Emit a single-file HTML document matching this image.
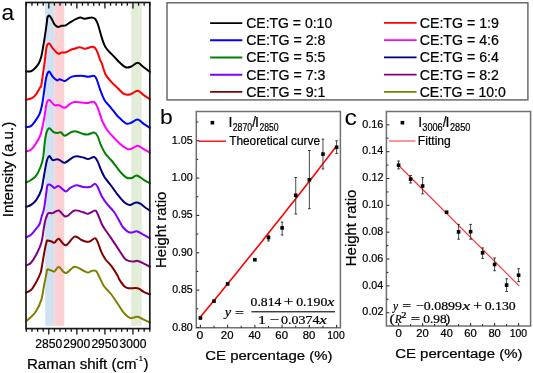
<!DOCTYPE html>
<html><head><meta charset="utf-8"><style>
html,body{margin:0;padding:0;background:#fff;}
svg{display:block;will-change:transform;}
</style></head><body>
<svg width="533" height="373" viewBox="0 0 533 373">
<rect width="533" height="373" fill="#fff"/>
<rect x="45.2" y="3.5" width="9.4" height="322.3" fill="#d0e2f2"/>
<rect x="54.6" y="3.5" width="9.7" height="322.3" fill="#fdd0d3"/>
<rect x="131.2" y="3.5" width="10.5" height="322.3" fill="#e2edd8"/>
<g fill="none" stroke-width="2.0" stroke-linejoin="round" stroke-linecap="round">
<path d="M26.00,71.40 C26.83,71.37 29.58,71.65 31.00,71.20 C32.42,70.75 33.22,69.98 34.50,68.70 C35.78,67.42 37.57,65.52 38.70,63.50 C39.83,61.48 40.42,60.22 41.30,56.60 C42.18,52.98 43.12,47.17 44.00,41.80 C44.88,36.43 46.02,28.47 46.60,24.40 C47.18,20.33 47.05,18.85 47.50,17.40 C47.95,15.95 48.57,15.40 49.30,15.70 C50.03,16.00 51.03,17.75 51.90,19.20 C52.77,20.65 53.48,23.10 54.50,24.40 C55.52,25.70 56.83,26.77 58.00,27.00 C59.17,27.23 60.20,26.08 61.50,25.80 C62.80,25.52 64.22,25.97 65.80,25.30 C67.38,24.63 69.25,22.88 71.00,21.80 C72.75,20.72 74.70,19.53 76.30,18.80 C77.90,18.07 79.15,17.40 80.60,17.40 C82.05,17.40 83.18,18.80 85.00,18.80 C86.82,18.80 89.83,17.40 91.50,17.40 C93.17,17.40 93.98,17.78 95.00,18.80 C96.02,19.82 96.73,21.27 97.60,23.50 C98.47,25.73 99.33,29.30 100.20,32.20 C101.07,35.10 101.93,38.43 102.80,40.90 C103.67,43.37 104.38,45.25 105.40,47.00 C106.42,48.75 107.45,49.80 108.90,51.40 C110.35,53.00 112.22,54.65 114.10,56.60 C115.98,58.55 118.17,61.28 120.20,63.10 C122.23,64.92 124.40,66.97 126.30,67.50 C128.20,68.03 129.70,67.08 131.60,66.30 C133.50,65.52 135.68,62.65 137.70,62.80 C139.72,62.95 141.65,65.68 143.70,67.20 C145.75,68.72 148.95,71.12 150.00,71.90" stroke="#000000"/>
<path d="M26.00,99.70 C27.00,99.43 30.28,99.03 32.00,98.10 C33.72,97.17 34.92,95.93 36.30,94.10 C37.68,92.27 39.45,88.70 40.30,87.10 C41.15,85.50 40.65,88.87 41.40,84.50 C42.15,80.13 43.93,67.15 44.80,60.90 C45.67,54.65 45.85,49.88 46.60,47.00 C47.35,44.12 48.28,43.38 49.30,43.60 C50.32,43.82 51.25,46.62 52.70,48.30 C54.15,49.98 56.53,53.00 58.00,53.70 C59.47,54.40 60.20,52.75 61.50,52.50 C62.80,52.25 64.22,52.67 65.80,52.20 C67.38,51.73 69.55,50.28 71.00,49.70 C72.45,49.12 73.05,49.10 74.50,48.70 C75.95,48.30 77.95,47.30 79.70,47.30 C81.45,47.30 82.75,48.80 85.00,48.70 C87.25,48.60 91.25,46.40 93.20,46.70 C95.15,47.00 95.53,48.27 96.70,50.50 C97.87,52.73 99.33,57.90 100.20,60.10 C101.07,62.30 101.03,61.35 101.90,63.70 C102.77,66.05 103.95,71.30 105.40,74.20 C106.85,77.10 108.57,78.78 110.60,81.10 C112.63,83.42 115.27,85.92 117.60,88.10 C119.93,90.28 122.42,93.18 124.60,94.20 C126.78,95.22 128.52,94.78 130.70,94.20 C132.88,93.62 135.53,90.55 137.70,90.70 C139.87,90.85 141.65,93.65 143.70,95.10 C145.75,96.55 148.95,98.68 150.00,99.40" stroke="#ff0000"/>
<path d="M26.00,127.00 C26.83,126.85 29.45,127.12 31.00,126.10 C32.55,125.08 33.87,122.93 35.30,120.90 C36.73,118.87 38.45,116.72 39.60,113.90 C40.75,111.08 41.47,107.65 42.20,104.00 C42.93,100.35 43.42,96.00 44.00,92.00 C44.58,88.00 45.15,83.00 45.70,80.00 C46.25,77.00 46.70,75.38 47.30,74.00 C47.90,72.62 48.40,71.27 49.30,71.70 C50.20,72.13 51.40,75.15 52.70,76.60 C54.00,78.05 55.93,79.97 57.10,80.40 C58.27,80.83 58.40,79.12 59.70,79.20 C61.00,79.28 62.87,81.33 64.90,80.90 C66.93,80.47 69.13,77.47 71.90,76.60 C74.67,75.73 78.82,75.67 81.50,75.70 C84.18,75.73 85.90,76.77 88.00,76.80 C90.10,76.83 92.65,75.47 94.10,75.90 C95.55,76.33 95.68,77.08 96.70,79.40 C97.72,81.72 98.88,86.32 100.20,89.80 C101.52,93.28 102.87,97.38 104.60,100.30 C106.33,103.22 108.58,104.83 110.60,107.30 C112.62,109.77 115.23,113.35 116.70,115.10 C118.17,116.85 117.80,116.38 119.40,117.80 C121.00,119.22 124.27,122.82 126.30,123.60 C128.33,124.38 129.70,123.17 131.60,122.50 C133.50,121.83 135.68,119.37 137.70,119.60 C139.72,119.83 141.65,122.53 143.70,123.90 C145.75,125.27 148.95,127.15 150.00,127.80" stroke="#0000ff"/>
<path d="M26.00,151.40 C26.83,151.12 29.45,150.87 31.00,149.70 C32.55,148.53 33.72,146.88 35.30,144.40 C36.88,141.92 39.05,139.00 40.50,134.80 C41.95,130.60 42.98,124.42 44.00,119.20 C45.02,113.98 45.72,106.68 46.60,103.50 C47.48,100.32 47.98,99.82 49.30,100.10 C50.62,100.38 52.92,104.35 54.50,105.20 C56.08,106.05 57.07,104.77 58.80,105.20 C60.53,105.63 63.15,107.93 64.90,107.80 C66.65,107.67 67.70,105.35 69.30,104.40 C70.90,103.45 72.47,102.40 74.50,102.10 C76.53,101.80 79.25,102.47 81.50,102.60 C83.75,102.73 85.90,103.00 88.00,102.90 C90.10,102.80 92.50,101.27 94.10,102.00 C95.70,102.73 96.43,104.68 97.60,107.30 C98.77,109.92 100.23,115.22 101.10,117.70 C101.97,120.18 101.78,120.15 102.80,122.20 C103.82,124.25 105.32,127.38 107.20,130.00 C109.08,132.62 111.78,135.43 114.10,137.90 C116.42,140.37 118.77,142.92 121.10,144.80 C123.43,146.68 126.22,148.62 128.10,149.20 C129.98,149.78 130.80,148.88 132.40,148.30 C134.00,147.72 135.82,145.55 137.70,145.70 C139.58,145.85 141.65,148.03 143.70,149.20 C145.75,150.37 148.95,152.12 150.00,152.70" stroke="#ff00ff"/>
<path d="M26.00,182.60 C26.83,182.17 29.30,181.15 31.00,180.00 C32.70,178.85 34.62,177.87 36.20,175.70 C37.78,173.53 39.35,169.95 40.50,167.00 C41.65,164.05 42.38,162.17 43.10,158.00 C43.82,153.83 44.22,146.30 44.80,142.00 C45.38,137.70 45.85,134.50 46.60,132.20 C47.35,129.90 48.13,128.20 49.30,128.20 C50.47,128.20 52.30,131.38 53.60,132.20 C54.90,133.02 55.93,133.10 57.10,133.10 C58.27,133.10 59.30,131.77 60.60,132.20 C61.90,132.63 63.17,135.70 64.90,135.70 C66.63,135.70 69.10,132.92 71.00,132.20 C72.90,131.48 74.27,131.10 76.30,131.40 C78.33,131.70 81.25,133.50 83.20,134.00 C85.15,134.50 86.18,134.63 88.00,134.40 C89.82,134.17 92.50,132.32 94.10,132.60 C95.70,132.88 96.43,133.92 97.60,136.10 C98.77,138.28 99.80,142.78 101.10,145.70 C102.40,148.62 103.67,151.13 105.40,153.60 C107.13,156.07 109.47,158.03 111.50,160.50 C113.53,162.97 116.00,166.35 117.60,168.40 C119.20,170.45 119.65,171.28 121.10,172.80 C122.55,174.32 124.55,176.62 126.30,177.50 C128.05,178.38 129.85,178.43 131.60,178.10 C133.35,177.77 134.78,175.22 136.80,175.50 C138.82,175.78 141.50,178.50 143.70,179.80 C145.90,181.10 148.95,182.72 150.00,183.30" stroke="#008000"/>
<path d="M26.00,207.00 C26.83,206.65 29.30,206.05 31.00,204.90 C32.70,203.75 34.47,202.65 36.20,200.10 C37.93,197.55 40.10,193.67 41.40,189.60 C42.70,185.53 43.13,180.35 44.00,175.70 C44.87,171.05 45.72,164.97 46.60,161.70 C47.48,158.43 48.28,156.37 49.30,156.10 C50.32,155.83 51.40,159.58 52.70,160.10 C54.00,160.62 55.93,159.20 57.10,159.20 C58.27,159.20 58.40,159.52 59.70,160.10 C61.00,160.68 62.43,163.28 64.90,162.70 C67.37,162.12 71.45,157.47 74.50,156.60 C77.55,155.73 80.95,157.08 83.20,157.50 C85.45,157.92 86.18,159.18 88.00,159.10 C89.82,159.02 92.50,156.62 94.10,157.00 C95.70,157.38 96.43,159.22 97.60,161.40 C98.77,163.58 99.93,167.47 101.10,170.10 C102.27,172.73 103.02,174.72 104.60,177.20 C106.18,179.68 108.43,182.10 110.60,185.00 C112.77,187.90 115.27,191.68 117.60,194.60 C119.93,197.52 122.57,200.75 124.60,202.50 C126.63,204.25 127.92,205.10 129.80,205.10 C131.68,205.10 134.15,202.73 135.90,202.50 C137.65,202.27 138.70,202.83 140.30,203.70 C141.90,204.57 143.88,206.55 145.50,207.70 C147.12,208.85 149.25,210.12 150.00,210.60" stroke="#000080"/>
<path d="M26.00,237.40 C26.83,236.97 29.30,236.25 31.00,234.80 C32.70,233.35 34.77,230.50 36.20,228.70 C37.63,226.90 38.67,226.12 39.60,224.00 C40.53,221.88 41.07,218.53 41.80,216.00 C42.53,213.47 43.20,213.05 44.00,208.80 C44.80,204.55 46.02,194.42 46.60,190.50 C47.18,186.58 46.92,186.27 47.50,185.30 C48.08,184.33 48.93,184.27 50.10,184.70 C51.27,185.13 53.05,187.67 54.50,187.90 C55.95,188.13 56.92,185.52 58.80,186.10 C60.68,186.68 63.90,191.10 65.80,191.40 C67.70,191.70 68.45,188.92 70.20,187.90 C71.95,186.88 74.13,185.45 76.30,185.30 C78.47,185.15 81.25,186.67 83.20,187.00 C85.15,187.33 86.62,187.42 88.00,187.30 C89.38,187.18 90.33,186.88 91.50,186.30 C92.67,185.72 93.98,183.72 95.00,183.80 C96.02,183.88 96.45,184.70 97.60,186.80 C98.75,188.90 100.30,193.50 101.90,196.40 C103.50,199.30 105.17,201.60 107.20,204.20 C109.23,206.80 111.93,208.95 114.10,212.00 C116.27,215.05 118.75,220.00 120.20,222.50 C121.65,225.00 121.48,225.45 122.80,227.00 C124.12,228.55 126.50,230.88 128.10,231.80 C129.70,232.72 130.95,232.58 132.40,232.50 C133.85,232.42 134.92,230.92 136.80,231.30 C138.68,231.68 141.50,233.63 143.70,234.80 C145.90,235.97 148.95,237.72 150.00,238.30" stroke="#8000ff"/>
<path d="M26.00,265.60 C26.83,265.12 29.30,264.50 31.00,262.70 C32.70,260.90 34.47,258.15 36.20,254.80 C37.93,251.45 40.10,247.23 41.40,242.60 C42.70,237.97 43.33,230.77 44.00,227.00 C44.67,223.23 44.93,221.83 45.40,220.00 C45.87,218.17 46.30,217.15 46.80,216.00 C47.30,214.85 47.42,213.58 48.40,213.10 C49.38,212.62 50.97,213.53 52.70,213.10 C54.43,212.67 56.62,209.92 58.80,210.50 C60.98,211.08 63.18,216.60 65.80,216.60 C68.42,216.60 71.60,211.22 74.50,210.50 C77.40,209.78 80.95,211.75 83.20,212.30 C85.45,212.85 86.03,214.08 88.00,213.80 C89.97,213.52 93.40,210.60 95.00,210.60 C96.60,210.60 96.45,211.53 97.60,213.80 C98.75,216.07 100.73,221.72 101.90,224.20 C103.07,226.68 103.15,226.50 104.60,228.70 C106.05,230.90 108.43,234.20 110.60,237.40 C112.77,240.60 115.27,244.42 117.60,247.90 C119.93,251.38 122.72,256.13 124.60,258.30 C126.48,260.47 127.45,260.37 128.90,260.90 C130.35,261.43 131.83,261.50 133.30,261.50 C134.77,261.50 135.97,260.55 137.70,260.90 C139.43,261.25 141.65,262.63 143.70,263.60 C145.75,264.57 148.95,266.18 150.00,266.70" stroke="#800080"/>
<path d="M26.00,292.60 C26.83,292.17 29.30,291.73 31.00,290.00 C32.70,288.27 34.62,285.03 36.20,282.20 C37.78,279.37 39.57,275.53 40.50,273.00 C41.43,270.47 41.08,270.90 41.80,267.00 C42.52,263.10 44.00,253.80 44.80,249.60 C45.60,245.40 46.15,243.30 46.60,241.80 C47.05,240.30 46.77,240.68 47.50,240.60 C48.23,240.52 49.83,240.97 51.00,241.30 C52.17,241.63 53.20,243.02 54.50,242.60 C55.80,242.18 56.92,238.35 58.80,238.80 C60.68,239.25 63.18,245.67 65.80,245.30 C68.42,244.93 71.88,237.48 74.50,236.60 C77.12,235.72 79.47,239.13 81.50,240.00 C83.53,240.87 85.28,241.58 86.70,241.80 C88.12,242.02 88.62,241.88 90.00,241.30 C91.38,240.72 93.73,238.22 95.00,238.30 C96.27,238.38 96.58,239.62 97.60,241.80 C98.62,243.98 99.80,248.50 101.10,251.40 C102.40,254.30 103.67,256.73 105.40,259.20 C107.13,261.67 109.47,263.45 111.50,266.20 C113.53,268.95 116.28,273.47 117.60,275.70 C118.92,277.93 118.23,277.78 119.40,279.60 C120.57,281.42 123.02,285.15 124.60,286.60 C126.18,288.05 126.72,288.02 128.90,288.30 C131.08,288.58 135.23,287.72 137.70,288.30 C140.17,288.88 141.65,290.78 143.70,291.80 C145.75,292.82 148.95,293.97 150.00,294.40" stroke="#800000"/>
<path d="M26.00,321.40 C26.83,320.67 29.30,318.75 31.00,317.00 C32.70,315.25 34.47,313.80 36.20,310.90 C37.93,308.00 40.10,303.80 41.40,299.60 C42.70,295.40 43.13,290.20 44.00,285.70 C44.87,281.20 46.02,275.33 46.60,272.60 C47.18,269.87 46.77,269.65 47.50,269.30 C48.23,268.95 49.83,270.15 51.00,270.50 C52.17,270.85 53.20,271.98 54.50,271.40 C55.80,270.82 56.92,266.72 58.80,267.00 C60.68,267.28 63.18,273.15 65.80,273.10 C68.42,273.05 71.60,267.13 74.50,266.70 C77.40,266.27 80.95,269.52 83.20,270.50 C85.45,271.48 86.62,272.53 88.00,272.60 C89.38,272.67 90.20,271.18 91.50,270.90 C92.80,270.62 94.63,270.18 95.80,270.90 C96.97,271.62 97.18,272.73 98.50,275.20 C99.82,277.67 101.68,282.65 103.70,285.70 C105.72,288.75 108.43,290.75 110.60,293.50 C112.77,296.25 114.52,299.00 116.70,302.20 C118.88,305.40 121.52,310.08 123.70,312.70 C125.88,315.32 128.05,317.12 129.80,317.90 C131.55,318.68 132.88,317.60 134.20,317.40 C135.52,317.20 136.12,316.32 137.70,316.70 C139.28,317.08 141.65,318.72 143.70,319.70 C145.75,320.68 148.95,322.12 150.00,322.60" stroke="#808000"/>
</g>
<rect x="26.0" y="2.5" width="123.80000000000001" height="326.1" fill="none" stroke="#1a1a1a" stroke-width="1.7"/>
<line x1="26.36" y1="2.5" x2="26.36" y2="5.7" stroke="#111" stroke-width="1.3"/>
<line x1="26.36" y1="328.6" x2="26.36" y2="331.8" stroke="#111" stroke-width="1.3"/>
<line x1="31.97" y1="2.5" x2="31.97" y2="5.7" stroke="#111" stroke-width="1.3"/>
<line x1="31.97" y1="328.6" x2="31.97" y2="331.8" stroke="#111" stroke-width="1.3"/>
<line x1="37.58" y1="2.5" x2="37.58" y2="5.7" stroke="#111" stroke-width="1.3"/>
<line x1="37.58" y1="328.6" x2="37.58" y2="331.8" stroke="#111" stroke-width="1.3"/>
<line x1="43.19" y1="2.5" x2="43.19" y2="5.7" stroke="#111" stroke-width="1.3"/>
<line x1="43.19" y1="328.6" x2="43.19" y2="331.8" stroke="#111" stroke-width="1.3"/>
<line x1="48.80" y1="2.5" x2="48.80" y2="8.5" stroke="#111" stroke-width="1.3"/>
<line x1="48.80" y1="328.6" x2="48.80" y2="334.6" stroke="#111" stroke-width="1.3"/>
<line x1="54.41" y1="2.5" x2="54.41" y2="5.7" stroke="#111" stroke-width="1.3"/>
<line x1="54.41" y1="328.6" x2="54.41" y2="331.8" stroke="#111" stroke-width="1.3"/>
<line x1="60.02" y1="2.5" x2="60.02" y2="5.7" stroke="#111" stroke-width="1.3"/>
<line x1="60.02" y1="328.6" x2="60.02" y2="331.8" stroke="#111" stroke-width="1.3"/>
<line x1="65.63" y1="2.5" x2="65.63" y2="5.7" stroke="#111" stroke-width="1.3"/>
<line x1="65.63" y1="328.6" x2="65.63" y2="331.8" stroke="#111" stroke-width="1.3"/>
<line x1="71.24" y1="2.5" x2="71.24" y2="5.7" stroke="#111" stroke-width="1.3"/>
<line x1="71.24" y1="328.6" x2="71.24" y2="331.8" stroke="#111" stroke-width="1.3"/>
<line x1="76.85" y1="2.5" x2="76.85" y2="8.5" stroke="#111" stroke-width="1.3"/>
<line x1="76.85" y1="328.6" x2="76.85" y2="334.6" stroke="#111" stroke-width="1.3"/>
<line x1="82.46" y1="2.5" x2="82.46" y2="5.7" stroke="#111" stroke-width="1.3"/>
<line x1="82.46" y1="328.6" x2="82.46" y2="331.8" stroke="#111" stroke-width="1.3"/>
<line x1="88.07" y1="2.5" x2="88.07" y2="5.7" stroke="#111" stroke-width="1.3"/>
<line x1="88.07" y1="328.6" x2="88.07" y2="331.8" stroke="#111" stroke-width="1.3"/>
<line x1="93.68" y1="2.5" x2="93.68" y2="5.7" stroke="#111" stroke-width="1.3"/>
<line x1="93.68" y1="328.6" x2="93.68" y2="331.8" stroke="#111" stroke-width="1.3"/>
<line x1="99.29" y1="2.5" x2="99.29" y2="5.7" stroke="#111" stroke-width="1.3"/>
<line x1="99.29" y1="328.6" x2="99.29" y2="331.8" stroke="#111" stroke-width="1.3"/>
<line x1="104.90" y1="2.5" x2="104.90" y2="8.5" stroke="#111" stroke-width="1.3"/>
<line x1="104.90" y1="328.6" x2="104.90" y2="334.6" stroke="#111" stroke-width="1.3"/>
<line x1="110.51" y1="2.5" x2="110.51" y2="5.7" stroke="#111" stroke-width="1.3"/>
<line x1="110.51" y1="328.6" x2="110.51" y2="331.8" stroke="#111" stroke-width="1.3"/>
<line x1="116.12" y1="2.5" x2="116.12" y2="5.7" stroke="#111" stroke-width="1.3"/>
<line x1="116.12" y1="328.6" x2="116.12" y2="331.8" stroke="#111" stroke-width="1.3"/>
<line x1="121.73" y1="2.5" x2="121.73" y2="5.7" stroke="#111" stroke-width="1.3"/>
<line x1="121.73" y1="328.6" x2="121.73" y2="331.8" stroke="#111" stroke-width="1.3"/>
<line x1="127.34" y1="2.5" x2="127.34" y2="5.7" stroke="#111" stroke-width="1.3"/>
<line x1="127.34" y1="328.6" x2="127.34" y2="331.8" stroke="#111" stroke-width="1.3"/>
<line x1="132.95" y1="2.5" x2="132.95" y2="8.5" stroke="#111" stroke-width="1.3"/>
<line x1="132.95" y1="328.6" x2="132.95" y2="334.6" stroke="#111" stroke-width="1.3"/>
<line x1="138.56" y1="2.5" x2="138.56" y2="5.7" stroke="#111" stroke-width="1.3"/>
<line x1="138.56" y1="328.6" x2="138.56" y2="331.8" stroke="#111" stroke-width="1.3"/>
<line x1="144.17" y1="2.5" x2="144.17" y2="5.7" stroke="#111" stroke-width="1.3"/>
<line x1="144.17" y1="328.6" x2="144.17" y2="331.8" stroke="#111" stroke-width="1.3"/>
<line x1="149.78" y1="2.5" x2="149.78" y2="5.7" stroke="#111" stroke-width="1.3"/>
<line x1="149.78" y1="328.6" x2="149.78" y2="331.8" stroke="#111" stroke-width="1.3"/>
<text x="35.30" y="347.70" font-size="12.86" text-anchor="start" fill="#000" stroke="#000" stroke-width="0.22" style='font-family:"Liberation Sans", sans-serif' textLength="26.88" lengthAdjust="spacingAndGlyphs" >2850</text>
<text x="63.35" y="347.70" font-size="12.86" text-anchor="start" fill="#000" stroke="#000" stroke-width="0.22" style='font-family:"Liberation Sans", sans-serif' textLength="26.88" lengthAdjust="spacingAndGlyphs" >2900</text>
<text x="91.40" y="347.70" font-size="12.86" text-anchor="start" fill="#000" stroke="#000" stroke-width="0.22" style='font-family:"Liberation Sans", sans-serif' textLength="26.88" lengthAdjust="spacingAndGlyphs" >2950</text>
<text x="119.57" y="347.70" font-size="12.86" text-anchor="start" fill="#000" stroke="#000" stroke-width="0.22" style='font-family:"Liberation Sans", sans-serif' textLength="26.76" lengthAdjust="spacingAndGlyphs" >3000</text>
<text x="27.00" y="368.50" font-size="14.21" text-anchor="start" fill="#000" stroke="#000" stroke-width="0.22" style='font-family:"Liberation Sans", sans-serif' textLength="109.55" lengthAdjust="spacingAndGlyphs" >Raman shift (cm</text>
<text x="135.6" y="361.3" font-size="7.5" text-anchor="start" fill="#000" stroke="#000" stroke-width="0.22" style='font-family:"Liberation Sans", sans-serif' textLength="2.6" lengthAdjust="spacingAndGlyphs" >-</text>
<text x="138.89" y="361.30" font-size="6.96" text-anchor="start" fill="#000" stroke="#000" stroke-width="0.22" style='font-family:"Liberation Sans", sans-serif' textLength="3.75" lengthAdjust="spacingAndGlyphs" >1</text>
<text x="143.6" y="368.5" font-size="14.21" text-anchor="start" fill="#000" stroke="#000" stroke-width="0.22" style='font-family:"Liberation Sans", sans-serif' textLength="5.01" lengthAdjust="spacingAndGlyphs" >)</text>
<g transform="translate(12.90,217.26) rotate(-90)">
<text x="0" y="0" font-size="14.62" text-anchor="start" fill="#000" stroke="#000" stroke-width="0.22" style='font-family:"Liberation Sans", sans-serif' textLength="95.48" lengthAdjust="spacingAndGlyphs" >Intensity (a.u.)</text>
</g>
<text x="1.48" y="20.20" font-size="22.04" text-anchor="start" fill="#000" stroke="#000" stroke-width="0.05" style='font-family:"Liberation Sans", sans-serif' textLength="12.65" lengthAdjust="spacingAndGlyphs" >a</text>
<rect x="167.0" y="2.8" width="360.9" height="97.1" fill="none" stroke="#6a6a6a" stroke-width="1.5"/>
<line x1="210.1" y1="23.10" x2="242.3" y2="23.10" stroke="#000000" stroke-width="1.9"/>
<text x="246.2" y="28.00" font-size="14.2" text-anchor="start" fill="#000" stroke="#000" stroke-width="0.22" style='font-family:"Liberation Sans", sans-serif' textLength="86.0" lengthAdjust="spacingAndGlyphs" >CE:TG = 0:10</text>
<line x1="210.1" y1="40.30" x2="242.3" y2="40.30" stroke="#0000ff" stroke-width="1.9"/>
<text x="246.2" y="45.20" font-size="14.2" text-anchor="start" fill="#000" stroke="#000" stroke-width="0.22" style='font-family:"Liberation Sans", sans-serif' >CE:TG = 2:8</text>
<line x1="210.1" y1="57.50" x2="242.3" y2="57.50" stroke="#008000" stroke-width="1.9"/>
<text x="246.2" y="62.40" font-size="14.2" text-anchor="start" fill="#000" stroke="#000" stroke-width="0.22" style='font-family:"Liberation Sans", sans-serif' >CE:TG = 5:5</text>
<line x1="210.1" y1="74.70" x2="242.3" y2="74.70" stroke="#8000ff" stroke-width="1.9"/>
<text x="246.2" y="79.60" font-size="14.2" text-anchor="start" fill="#000" stroke="#000" stroke-width="0.22" style='font-family:"Liberation Sans", sans-serif' >CE:TG = 7:3</text>
<line x1="210.1" y1="91.90" x2="242.3" y2="91.90" stroke="#800000" stroke-width="1.9"/>
<text x="246.2" y="96.80" font-size="14.2" text-anchor="start" fill="#000" stroke="#000" stroke-width="0.22" style='font-family:"Liberation Sans", sans-serif' >CE:TG = 9:1</text>
<line x1="384.0" y1="22.90" x2="416.6" y2="22.90" stroke="#ff0000" stroke-width="1.9"/>
<text x="419.7" y="27.80" font-size="14.2" text-anchor="start" fill="#000" stroke="#000" stroke-width="0.22" style='font-family:"Liberation Sans", sans-serif' >CE:TG = 1:9</text>
<line x1="384.0" y1="40.15" x2="416.6" y2="40.15" stroke="#ff00ff" stroke-width="1.9"/>
<text x="419.7" y="45.05" font-size="14.2" text-anchor="start" fill="#000" stroke="#000" stroke-width="0.22" style='font-family:"Liberation Sans", sans-serif' >CE:TG = 4:6</text>
<line x1="384.0" y1="57.40" x2="416.6" y2="57.40" stroke="#000080" stroke-width="1.9"/>
<text x="419.7" y="62.30" font-size="14.2" text-anchor="start" fill="#000" stroke="#000" stroke-width="0.22" style='font-family:"Liberation Sans", sans-serif' >CE:TG = 6:4</text>
<line x1="384.0" y1="74.65" x2="416.6" y2="74.65" stroke="#800080" stroke-width="1.9"/>
<text x="419.7" y="79.55" font-size="14.2" text-anchor="start" fill="#000" stroke="#000" stroke-width="0.22" style='font-family:"Liberation Sans", sans-serif' >CE:TG = 8:2</text>
<line x1="384.0" y1="91.90" x2="416.6" y2="91.90" stroke="#808000" stroke-width="1.9"/>
<text x="419.7" y="96.80" font-size="14.2" text-anchor="start" fill="#000" stroke="#000" stroke-width="0.22" style='font-family:"Liberation Sans", sans-serif' textLength="86.0" lengthAdjust="spacingAndGlyphs" >CE:TG = 10:0</text>
<path d="M196.3,327.8 L196.3,111.5 L340.4,111.5 L340.4,327.8 Z" fill="none" stroke="#707070" stroke-width="1.5"/>
<line x1="196.3" y1="327.50" x2="199.3" y2="327.50" stroke="#333" stroke-width="1.1"/>
<line x1="196.3" y1="308.82" x2="198.3" y2="308.82" stroke="#333" stroke-width="1.1"/>
<line x1="196.3" y1="290.14" x2="199.3" y2="290.14" stroke="#333" stroke-width="1.1"/>
<line x1="196.3" y1="271.46" x2="198.3" y2="271.46" stroke="#333" stroke-width="1.1"/>
<line x1="196.3" y1="252.78" x2="199.3" y2="252.78" stroke="#333" stroke-width="1.1"/>
<line x1="196.3" y1="234.10" x2="198.3" y2="234.10" stroke="#333" stroke-width="1.1"/>
<line x1="196.3" y1="215.42" x2="199.3" y2="215.42" stroke="#333" stroke-width="1.1"/>
<line x1="196.3" y1="196.74" x2="198.3" y2="196.74" stroke="#333" stroke-width="1.1"/>
<line x1="196.3" y1="178.06" x2="199.3" y2="178.06" stroke="#333" stroke-width="1.1"/>
<line x1="196.3" y1="159.38" x2="198.3" y2="159.38" stroke="#333" stroke-width="1.1"/>
<line x1="196.3" y1="140.70" x2="199.3" y2="140.70" stroke="#333" stroke-width="1.1"/>
<line x1="196.3" y1="122.02" x2="198.3" y2="122.02" stroke="#333" stroke-width="1.1"/>
<text x="172.18" y="330.50" font-size="11.14" text-anchor="start" fill="#000" stroke="#000" stroke-width="0.22" style='font-family:"Liberation Sans", sans-serif' textLength="20.56" lengthAdjust="spacingAndGlyphs" >0.80</text>
<text x="172.18" y="293.14" font-size="11.14" text-anchor="start" fill="#000" stroke="#000" stroke-width="0.22" style='font-family:"Liberation Sans", sans-serif' textLength="20.56" lengthAdjust="spacingAndGlyphs" >0.85</text>
<text x="172.18" y="255.78" font-size="11.14" text-anchor="start" fill="#000" stroke="#000" stroke-width="0.22" style='font-family:"Liberation Sans", sans-serif' textLength="20.56" lengthAdjust="spacingAndGlyphs" >0.90</text>
<text x="172.18" y="218.42" font-size="11.14" text-anchor="start" fill="#000" stroke="#000" stroke-width="0.22" style='font-family:"Liberation Sans", sans-serif' textLength="20.56" lengthAdjust="spacingAndGlyphs" >0.95</text>
<text x="171.79" y="181.06" font-size="11.14" text-anchor="start" fill="#000" stroke="#000" stroke-width="0.22" style='font-family:"Liberation Sans", sans-serif' textLength="20.95" lengthAdjust="spacingAndGlyphs" >1.00</text>
<text x="171.79" y="143.70" font-size="11.14" text-anchor="start" fill="#000" stroke="#000" stroke-width="0.22" style='font-family:"Liberation Sans", sans-serif' textLength="20.95" lengthAdjust="spacingAndGlyphs" >1.05</text>
<line x1="200.40" y1="327.8" x2="200.40" y2="324.8" stroke="#333" stroke-width="1.1"/>
<line x1="214.02" y1="327.8" x2="214.02" y2="325.8" stroke="#333" stroke-width="1.1"/>
<line x1="227.64" y1="327.8" x2="227.64" y2="324.8" stroke="#333" stroke-width="1.1"/>
<line x1="241.26" y1="327.8" x2="241.26" y2="325.8" stroke="#333" stroke-width="1.1"/>
<line x1="254.88" y1="327.8" x2="254.88" y2="324.8" stroke="#333" stroke-width="1.1"/>
<line x1="268.50" y1="327.8" x2="268.50" y2="325.8" stroke="#333" stroke-width="1.1"/>
<line x1="282.12" y1="327.8" x2="282.12" y2="324.8" stroke="#333" stroke-width="1.1"/>
<line x1="295.74" y1="327.8" x2="295.74" y2="325.8" stroke="#333" stroke-width="1.1"/>
<line x1="309.36" y1="327.8" x2="309.36" y2="324.8" stroke="#333" stroke-width="1.1"/>
<line x1="322.98" y1="327.8" x2="322.98" y2="325.8" stroke="#333" stroke-width="1.1"/>
<line x1="336.60" y1="327.8" x2="336.60" y2="324.8" stroke="#333" stroke-width="1.1"/>
<text x="196.61" y="338.60" font-size="10.86" text-anchor="start" fill="#000" stroke="#000" stroke-width="0.22" style='font-family:"Liberation Sans", sans-serif' textLength="6.79" lengthAdjust="spacingAndGlyphs" >0</text>
<text x="220.87" y="338.60" font-size="10.86" text-anchor="start" fill="#000" stroke="#000" stroke-width="0.22" style='font-family:"Liberation Sans", sans-serif' textLength="12.65" lengthAdjust="spacingAndGlyphs" >20</text>
<text x="248.40" y="338.60" font-size="10.86" text-anchor="start" fill="#000" stroke="#000" stroke-width="0.22" style='font-family:"Liberation Sans", sans-serif' textLength="12.35" lengthAdjust="spacingAndGlyphs" >40</text>
<text x="275.35" y="338.60" font-size="10.86" text-anchor="start" fill="#000" stroke="#000" stroke-width="0.22" style='font-family:"Liberation Sans", sans-serif' textLength="12.65" lengthAdjust="spacingAndGlyphs" >60</text>
<text x="302.65" y="338.60" font-size="10.86" text-anchor="start" fill="#000" stroke="#000" stroke-width="0.22" style='font-family:"Liberation Sans", sans-serif' textLength="12.59" lengthAdjust="spacingAndGlyphs" >80</text>
<text x="327.32" y="338.60" font-size="10.86" text-anchor="start" fill="#000" stroke="#000" stroke-width="0.22" style='font-family:"Liberation Sans", sans-serif' textLength="17.44" lengthAdjust="spacingAndGlyphs" >100</text>
<text x="205.25" y="359.80" font-size="13.66" text-anchor="start" fill="#000" stroke="#000" stroke-width="0.22" style='font-family:"Liberation Sans", sans-serif' textLength="127.21" lengthAdjust="spacingAndGlyphs" >CE percentage (%)</text>
<g transform="translate(165.70,267.89) rotate(-90)">
<text x="0" y="0" font-size="14.90" text-anchor="start" fill="#000" stroke="#000" stroke-width="0.22" style='font-family:"Liberation Sans", sans-serif' textLength="76.17" lengthAdjust="spacingAndGlyphs" >Height ratio</text>
</g>
<text x="160.11" y="124.00" font-size="20.97" text-anchor="start" fill="#000" stroke="#000" stroke-width="0.05" style='font-family:"Liberation Sans", sans-serif' textLength="12.73" lengthAdjust="spacingAndGlyphs" >b</text>
<rect x="210.6" y="120.9" width="3.6" height="3.6" fill="#000"/>
<text x="228.42" y="126.70" font-size="14.20" text-anchor="start" fill="#000" stroke="#000" stroke-width="0.22" style='font-family:"Liberation Sans", sans-serif' textLength="3.95" lengthAdjust="spacingAndGlyphs" >I</text>
<text x="232.66" y="130.90" font-size="10.00" text-anchor="start" fill="#000" stroke="#000" stroke-width="0.22" style='font-family:"Liberation Sans", sans-serif' textLength="19.49" lengthAdjust="spacingAndGlyphs" >2870</text>
<text x="252.20" y="126.90" font-size="13.79" text-anchor="start" fill="#000" stroke="#000" stroke-width="0.22" style='font-family:"Liberation Sans", sans-serif' textLength="3.74" lengthAdjust="spacingAndGlyphs" >/</text>
<text x="255.02" y="126.70" font-size="14.20" text-anchor="start" fill="#000" stroke="#000" stroke-width="0.22" style='font-family:"Liberation Sans", sans-serif' textLength="3.95" lengthAdjust="spacingAndGlyphs" >I</text>
<text x="259.47" y="130.90" font-size="10.00" text-anchor="start" fill="#000" stroke="#000" stroke-width="0.22" style='font-family:"Liberation Sans", sans-serif' textLength="19.17" lengthAdjust="spacingAndGlyphs" >2850</text>
<line x1="198.8" y1="141.2" x2="226" y2="141.2" stroke="#ff0000" stroke-width="1.4"/>
<text x="229.16" y="145.00" font-size="12.69" text-anchor="start" fill="#000" stroke="#000" stroke-width="0.22" style='font-family:"Liberation Sans", sans-serif' textLength="90.87" lengthAdjust="spacingAndGlyphs" >Theoretical curve</text>
<path d="M200.40,317.04 L207.21,308.79 L214.02,300.51 L220.83,292.19 L227.64,283.85 L234.45,275.47 L241.26,267.06 L248.07,258.62 L254.88,250.15 L261.69,241.65 L268.50,233.11 L275.31,224.54 L282.12,215.94 L288.93,207.31 L295.74,198.64 L302.55,189.94 L309.36,181.20 L316.17,172.43 L322.98,163.63 L329.79,154.79 L336.60,145.92" fill="none" stroke="#ff0000" stroke-width="1.6"/>
<rect x="198.60" y="316.20" width="3.6" height="3.6" fill="#000"/>
<rect x="212.22" y="299.30" width="3.6" height="3.6" fill="#000"/>
<rect x="225.84" y="282.10" width="3.6" height="3.6" fill="#000"/>
<rect x="253.08" y="257.90" width="3.6" height="3.6" fill="#000"/>
<line x1="268.50" y1="235.2" x2="268.50" y2="241.0" stroke="#333" stroke-width="0.9"/>
<line x1="267.20" y1="235.2" x2="269.80" y2="235.2" stroke="#333" stroke-width="1.0"/>
<line x1="267.20" y1="241.0" x2="269.80" y2="241.0" stroke="#333" stroke-width="1.0"/>
<rect x="266.70" y="235.80" width="3.6" height="3.6" fill="#000"/>
<line x1="282.12" y1="222.1" x2="282.12" y2="235" stroke="#333" stroke-width="0.9"/>
<line x1="280.82" y1="222.1" x2="283.42" y2="222.1" stroke="#333" stroke-width="1.0"/>
<line x1="280.82" y1="235" x2="283.42" y2="235" stroke="#333" stroke-width="1.0"/>
<rect x="280.32" y="226.10" width="3.6" height="3.6" fill="#000"/>
<line x1="295.74" y1="177.5" x2="295.74" y2="214" stroke="#333" stroke-width="0.9"/>
<line x1="294.44" y1="177.5" x2="297.04" y2="177.5" stroke="#333" stroke-width="1.0"/>
<line x1="294.44" y1="214" x2="297.04" y2="214" stroke="#333" stroke-width="1.0"/>
<rect x="293.94" y="193.50" width="3.6" height="3.6" fill="#000"/>
<line x1="309.36" y1="150.5" x2="309.36" y2="208.7" stroke="#333" stroke-width="0.9"/>
<line x1="308.06" y1="150.5" x2="310.66" y2="150.5" stroke="#333" stroke-width="1.0"/>
<line x1="308.06" y1="208.7" x2="310.66" y2="208.7" stroke="#333" stroke-width="1.0"/>
<rect x="307.56" y="178.00" width="3.6" height="3.6" fill="#000"/>
<line x1="322.98" y1="139.1" x2="322.98" y2="169.0" stroke="#333" stroke-width="0.9"/>
<line x1="321.68" y1="139.1" x2="324.28" y2="139.1" stroke="#333" stroke-width="1.0"/>
<line x1="321.68" y1="169.0" x2="324.28" y2="169.0" stroke="#333" stroke-width="1.0"/>
<rect x="321.18" y="152.30" width="3.6" height="3.6" fill="#000"/>
<line x1="336.60" y1="140.8" x2="336.60" y2="153.6" stroke="#333" stroke-width="0.9"/>
<line x1="335.30" y1="140.8" x2="337.90" y2="140.8" stroke="#333" stroke-width="1.0"/>
<line x1="335.30" y1="153.6" x2="337.90" y2="153.6" stroke="#333" stroke-width="1.0"/>
<rect x="334.80" y="145.50" width="3.6" height="3.6" fill="#000"/>
<text x="250.60" y="305.90" font-size="12.50" text-anchor="start" fill="#000" stroke="#000" stroke-width="0.22" style='font-family:"Liberation Serif", serif' textLength="30.75" lengthAdjust="spacingAndGlyphs" >0.814</text>
<text x="283.75" y="305.90" font-size="12.50" text-anchor="start" fill="#000" stroke="#000" stroke-width="0.22" style='font-family:"Liberation Serif", serif' textLength="9.58" lengthAdjust="spacingAndGlyphs" >+</text>
<text x="296.20" y="305.90" font-size="12.50" text-anchor="start" fill="#000" stroke="#000" stroke-width="0.22" style='font-family:"Liberation Serif", serif' textLength="31.11" lengthAdjust="spacingAndGlyphs" >0.190</text>
<text x="327.31" y="305.90" font-size="12.50" text-anchor="start" fill="#000" stroke="#000" stroke-width="0.22" style='font-family:"Liberation Serif", serif' textLength="7.18" lengthAdjust="spacingAndGlyphs" font-style="italic" >x</text>
<rect x="251.4" y="311.1" width="83.6" height="1.3" fill="#2a2a2a"/>
<text x="258.11" y="323.80" font-size="12.50" text-anchor="start" fill="#000" stroke="#000" stroke-width="0.22" style='font-family:"Liberation Serif", serif' textLength="8.00" lengthAdjust="spacingAndGlyphs" >1</text>
<text x="269.46" y="323.80" font-size="12.50" text-anchor="start" fill="#000" stroke="#000" stroke-width="0.22" style='font-family:"Liberation Serif", serif' textLength="9.46" lengthAdjust="spacingAndGlyphs" >−</text>
<text x="280.99" y="323.80" font-size="12.50" text-anchor="start" fill="#000" stroke="#000" stroke-width="0.22" style='font-family:"Liberation Serif", serif' textLength="38.37" lengthAdjust="spacingAndGlyphs" >0.0374</text>
<text x="319.32" y="323.80" font-size="12.50" text-anchor="start" fill="#000" stroke="#000" stroke-width="0.22" style='font-family:"Liberation Serif", serif' textLength="7.58" lengthAdjust="spacingAndGlyphs" font-style="italic" >x</text>
<text x="224.87" y="315.70" font-size="13.50" text-anchor="start" fill="#000" stroke="#000" stroke-width="0.22" style='font-family:"Liberation Serif", serif' textLength="6.36" lengthAdjust="spacingAndGlyphs" font-style="italic" >y</text>
<text x="235.10" y="316.60" font-size="13.50" text-anchor="start" fill="#000" stroke="#000" stroke-width="0.22" style='font-family:"Liberation Serif", serif' textLength="8.98" lengthAdjust="spacingAndGlyphs" >=</text>
<path d="M386.4,326.0 L386.4,111.4 L530.6,111.4 L530.6,326.0 Z" fill="none" stroke="#707070" stroke-width="1.5"/>
<line x1="386.4" y1="312.70" x2="389.4" y2="312.70" stroke="#333" stroke-width="1.1"/>
<line x1="386.4" y1="299.28" x2="388.4" y2="299.28" stroke="#333" stroke-width="1.1"/>
<line x1="386.4" y1="285.86" x2="389.4" y2="285.86" stroke="#333" stroke-width="1.1"/>
<line x1="386.4" y1="272.44" x2="388.4" y2="272.44" stroke="#333" stroke-width="1.1"/>
<line x1="386.4" y1="259.02" x2="389.4" y2="259.02" stroke="#333" stroke-width="1.1"/>
<line x1="386.4" y1="245.60" x2="388.4" y2="245.60" stroke="#333" stroke-width="1.1"/>
<line x1="386.4" y1="232.18" x2="389.4" y2="232.18" stroke="#333" stroke-width="1.1"/>
<line x1="386.4" y1="218.76" x2="388.4" y2="218.76" stroke="#333" stroke-width="1.1"/>
<line x1="386.4" y1="205.34" x2="389.4" y2="205.34" stroke="#333" stroke-width="1.1"/>
<line x1="386.4" y1="191.92" x2="388.4" y2="191.92" stroke="#333" stroke-width="1.1"/>
<line x1="386.4" y1="178.50" x2="389.4" y2="178.50" stroke="#333" stroke-width="1.1"/>
<line x1="386.4" y1="165.08" x2="388.4" y2="165.08" stroke="#333" stroke-width="1.1"/>
<line x1="386.4" y1="151.66" x2="389.4" y2="151.66" stroke="#333" stroke-width="1.1"/>
<line x1="386.4" y1="138.24" x2="388.4" y2="138.24" stroke="#333" stroke-width="1.1"/>
<line x1="386.4" y1="124.82" x2="389.4" y2="124.82" stroke="#333" stroke-width="1.1"/>
<text x="362.37" y="315.40" font-size="11.29" text-anchor="start" fill="#000" stroke="#000" stroke-width="0.22" style='font-family:"Liberation Sans", sans-serif' textLength="21.09" lengthAdjust="spacingAndGlyphs" >0.02</text>
<text x="362.37" y="288.56" font-size="11.29" text-anchor="start" fill="#000" stroke="#000" stroke-width="0.22" style='font-family:"Liberation Sans", sans-serif' textLength="20.86" lengthAdjust="spacingAndGlyphs" >0.04</text>
<text x="362.37" y="261.72" font-size="11.29" text-anchor="start" fill="#000" stroke="#000" stroke-width="0.22" style='font-family:"Liberation Sans", sans-serif' textLength="21.03" lengthAdjust="spacingAndGlyphs" >0.06</text>
<text x="362.37" y="234.88" font-size="11.29" text-anchor="start" fill="#000" stroke="#000" stroke-width="0.22" style='font-family:"Liberation Sans", sans-serif' textLength="20.98" lengthAdjust="spacingAndGlyphs" >0.08</text>
<text x="362.37" y="208.04" font-size="11.29" text-anchor="start" fill="#000" stroke="#000" stroke-width="0.22" style='font-family:"Liberation Sans", sans-serif' textLength="20.98" lengthAdjust="spacingAndGlyphs" >0.10</text>
<text x="362.37" y="181.20" font-size="11.29" text-anchor="start" fill="#000" stroke="#000" stroke-width="0.22" style='font-family:"Liberation Sans", sans-serif' textLength="21.09" lengthAdjust="spacingAndGlyphs" >0.12</text>
<text x="362.37" y="154.36" font-size="11.29" text-anchor="start" fill="#000" stroke="#000" stroke-width="0.22" style='font-family:"Liberation Sans", sans-serif' textLength="20.86" lengthAdjust="spacingAndGlyphs" >0.14</text>
<text x="362.37" y="127.52" font-size="11.29" text-anchor="start" fill="#000" stroke="#000" stroke-width="0.22" style='font-family:"Liberation Sans", sans-serif' textLength="21.03" lengthAdjust="spacingAndGlyphs" >0.16</text>
<line x1="398.60" y1="326.0" x2="398.60" y2="323.0" stroke="#333" stroke-width="1.1"/>
<line x1="410.60" y1="326.0" x2="410.60" y2="324.0" stroke="#333" stroke-width="1.1"/>
<line x1="422.60" y1="326.0" x2="422.60" y2="323.0" stroke="#333" stroke-width="1.1"/>
<line x1="434.60" y1="326.0" x2="434.60" y2="324.0" stroke="#333" stroke-width="1.1"/>
<line x1="446.60" y1="326.0" x2="446.60" y2="323.0" stroke="#333" stroke-width="1.1"/>
<line x1="458.60" y1="326.0" x2="458.60" y2="324.0" stroke="#333" stroke-width="1.1"/>
<line x1="470.60" y1="326.0" x2="470.60" y2="323.0" stroke="#333" stroke-width="1.1"/>
<line x1="482.60" y1="326.0" x2="482.60" y2="324.0" stroke="#333" stroke-width="1.1"/>
<line x1="494.60" y1="326.0" x2="494.60" y2="323.0" stroke="#333" stroke-width="1.1"/>
<line x1="506.60" y1="326.0" x2="506.60" y2="324.0" stroke="#333" stroke-width="1.1"/>
<line x1="518.60" y1="326.0" x2="518.60" y2="323.0" stroke="#333" stroke-width="1.1"/>
<text x="395.45" y="337.00" font-size="10.00" text-anchor="start" fill="#000" stroke="#000" stroke-width="0.22" style='font-family:"Liberation Sans", sans-serif' textLength="6.32" lengthAdjust="spacingAndGlyphs" >0</text>
<text x="416.34" y="337.00" font-size="10.00" text-anchor="start" fill="#000" stroke="#000" stroke-width="0.22" style='font-family:"Liberation Sans", sans-serif' textLength="12.43" lengthAdjust="spacingAndGlyphs" >20</text>
<text x="440.63" y="337.00" font-size="10.00" text-anchor="start" fill="#000" stroke="#000" stroke-width="0.22" style='font-family:"Liberation Sans", sans-serif' textLength="12.13" lengthAdjust="spacingAndGlyphs" >40</text>
<text x="464.34" y="337.00" font-size="10.00" text-anchor="start" fill="#000" stroke="#000" stroke-width="0.22" style='font-family:"Liberation Sans", sans-serif' textLength="12.43" lengthAdjust="spacingAndGlyphs" >60</text>
<text x="488.40" y="337.00" font-size="10.00" text-anchor="start" fill="#000" stroke="#000" stroke-width="0.22" style='font-family:"Liberation Sans", sans-serif' textLength="12.37" lengthAdjust="spacingAndGlyphs" >80</text>
<text x="509.72" y="337.00" font-size="10.00" text-anchor="start" fill="#000" stroke="#000" stroke-width="0.22" style='font-family:"Liberation Sans", sans-serif' textLength="17.44" lengthAdjust="spacingAndGlyphs" >100</text>
<text x="395.15" y="358.20" font-size="13.66" text-anchor="start" fill="#000" stroke="#000" stroke-width="0.22" style='font-family:"Liberation Sans", sans-serif' textLength="127.31" lengthAdjust="spacingAndGlyphs" >CE percentage (%)</text>
<g transform="translate(355.70,266.20) rotate(-90)">
<text x="0" y="0" font-size="15.17" text-anchor="start" fill="#000" stroke="#000" stroke-width="0.22" style='font-family:"Liberation Sans", sans-serif' textLength="76.48" lengthAdjust="spacingAndGlyphs" >Height ratio</text>
</g>
<text x="344.48" y="124.50" font-size="22.59" text-anchor="start" fill="#000" stroke="#000" stroke-width="0.05" style='font-family:"Liberation Sans", sans-serif' textLength="12.44" lengthAdjust="spacingAndGlyphs" >c</text>
<rect x="400.6" y="120.9" width="3.6" height="3.6" fill="#000"/>
<text x="418.32" y="126.70" font-size="14.20" text-anchor="start" fill="#000" stroke="#000" stroke-width="0.22" style='font-family:"Liberation Sans", sans-serif' textLength="3.95" lengthAdjust="spacingAndGlyphs" >I</text>
<text x="422.34" y="130.90" font-size="10.00" text-anchor="start" fill="#000" stroke="#000" stroke-width="0.22" style='font-family:"Liberation Sans", sans-serif' textLength="20.27" lengthAdjust="spacingAndGlyphs" >3006</text>
<text x="442.80" y="126.90" font-size="13.79" text-anchor="start" fill="#000" stroke="#000" stroke-width="0.22" style='font-family:"Liberation Sans", sans-serif' textLength="3.74" lengthAdjust="spacingAndGlyphs" >/</text>
<text x="445.52" y="126.70" font-size="14.20" text-anchor="start" fill="#000" stroke="#000" stroke-width="0.22" style='font-family:"Liberation Sans", sans-serif' textLength="3.95" lengthAdjust="spacingAndGlyphs" >I</text>
<text x="450.04" y="130.90" font-size="10.00" text-anchor="start" fill="#000" stroke="#000" stroke-width="0.22" style='font-family:"Liberation Sans", sans-serif' textLength="20.32" lengthAdjust="spacingAndGlyphs" >2850</text>
<line x1="389.1" y1="141.0" x2="415.4" y2="141.0" stroke="#ff3c3c" stroke-width="1.1"/>
<text x="417.83" y="144.60" font-size="12.14" text-anchor="start" fill="#000" stroke="#000" stroke-width="0.22" style='font-family:"Liberation Sans", sans-serif' textLength="33.00" lengthAdjust="spacingAndGlyphs" >Fitting</text>
<line x1="398.2" y1="165.0" x2="519.1" y2="285.9" stroke="#ff2a2a" stroke-width="1.1"/>
<line x1="398.60" y1="161.0" x2="398.60" y2="168.9" stroke="#333" stroke-width="0.9"/>
<line x1="397.30" y1="161.0" x2="399.90" y2="161.0" stroke="#333" stroke-width="1.0"/>
<line x1="397.30" y1="168.9" x2="399.90" y2="168.9" stroke="#333" stroke-width="1.0"/>
<rect x="396.80" y="163.40" width="3.6" height="3.6" fill="#000"/>
<line x1="410.60" y1="175.5" x2="410.60" y2="183.0" stroke="#333" stroke-width="0.9"/>
<line x1="409.30" y1="175.5" x2="411.90" y2="175.5" stroke="#333" stroke-width="1.0"/>
<line x1="409.30" y1="183.0" x2="411.90" y2="183.0" stroke="#333" stroke-width="1.0"/>
<rect x="408.80" y="177.30" width="3.6" height="3.6" fill="#000"/>
<line x1="422.60" y1="177.7" x2="422.60" y2="193.8" stroke="#333" stroke-width="0.9"/>
<line x1="421.30" y1="177.7" x2="423.90" y2="177.7" stroke="#333" stroke-width="1.0"/>
<line x1="421.30" y1="193.8" x2="423.90" y2="193.8" stroke="#333" stroke-width="1.0"/>
<rect x="420.80" y="184.20" width="3.6" height="3.6" fill="#000"/>
<rect x="444.80" y="210.40" width="3.6" height="3.6" fill="#000"/>
<line x1="458.60" y1="224.4" x2="458.60" y2="239.2" stroke="#333" stroke-width="0.9"/>
<line x1="457.30" y1="224.4" x2="459.90" y2="224.4" stroke="#333" stroke-width="1.0"/>
<line x1="457.30" y1="239.2" x2="459.90" y2="239.2" stroke="#333" stroke-width="1.0"/>
<rect x="456.80" y="230.10" width="3.6" height="3.6" fill="#000"/>
<line x1="470.60" y1="224.4" x2="470.60" y2="239.2" stroke="#333" stroke-width="0.9"/>
<line x1="469.30" y1="224.4" x2="471.90" y2="224.4" stroke="#333" stroke-width="1.0"/>
<line x1="469.30" y1="239.2" x2="471.90" y2="239.2" stroke="#333" stroke-width="1.0"/>
<rect x="468.80" y="229.90" width="3.6" height="3.6" fill="#000"/>
<line x1="482.60" y1="247.9" x2="482.60" y2="258.4" stroke="#333" stroke-width="0.9"/>
<line x1="481.30" y1="247.9" x2="483.90" y2="247.9" stroke="#333" stroke-width="1.0"/>
<line x1="481.30" y1="258.4" x2="483.90" y2="258.4" stroke="#333" stroke-width="1.0"/>
<rect x="480.80" y="251.00" width="3.6" height="3.6" fill="#000"/>
<line x1="494.60" y1="258.0" x2="494.60" y2="270.7" stroke="#333" stroke-width="0.9"/>
<line x1="493.30" y1="258.0" x2="495.90" y2="258.0" stroke="#333" stroke-width="1.0"/>
<line x1="493.30" y1="270.7" x2="495.90" y2="270.7" stroke="#333" stroke-width="1.0"/>
<rect x="492.80" y="262.70" width="3.6" height="3.6" fill="#000"/>
<line x1="506.60" y1="278.8" x2="506.60" y2="291.5" stroke="#333" stroke-width="0.9"/>
<line x1="505.30" y1="278.8" x2="507.90" y2="278.8" stroke="#333" stroke-width="1.0"/>
<line x1="505.30" y1="291.5" x2="507.90" y2="291.5" stroke="#333" stroke-width="1.0"/>
<rect x="504.80" y="283.30" width="3.6" height="3.6" fill="#000"/>
<line x1="518.60" y1="268.7" x2="518.60" y2="281.5" stroke="#333" stroke-width="0.9"/>
<line x1="517.30" y1="268.7" x2="519.90" y2="268.7" stroke="#333" stroke-width="1.0"/>
<line x1="517.30" y1="281.5" x2="519.90" y2="281.5" stroke="#333" stroke-width="1.0"/>
<rect x="516.80" y="273.40" width="3.6" height="3.6" fill="#000"/>
<text x="393.01" y="309.70" font-size="12.40" text-anchor="start" fill="#000" stroke="#000" stroke-width="0.22" style='font-family:"Liberation Serif", serif' textLength="5.02" lengthAdjust="spacingAndGlyphs" font-style="italic" >y</text>
<text x="402.22" y="309.70" font-size="12.40" text-anchor="start" fill="#000" stroke="#000" stroke-width="0.22" style='font-family:"Liberation Serif", serif' textLength="8.85" lengthAdjust="spacingAndGlyphs" >=</text>
<text x="415.69" y="309.70" font-size="12.40" text-anchor="start" fill="#000" stroke="#000" stroke-width="0.22" style='font-family:"Liberation Serif", serif' textLength="8.00" lengthAdjust="spacingAndGlyphs" >−</text>
<text x="423.79" y="309.70" font-size="12.40" text-anchor="start" fill="#000" stroke="#000" stroke-width="0.22" style='font-family:"Liberation Serif", serif' textLength="38.21" lengthAdjust="spacingAndGlyphs" >0.0899</text>
<text x="462.42" y="309.70" font-size="12.40" text-anchor="start" fill="#000" stroke="#000" stroke-width="0.22" style='font-family:"Liberation Serif", serif' textLength="7.68" lengthAdjust="spacingAndGlyphs" font-style="italic" >x</text>
<text x="473.23" y="309.70" font-size="12.40" text-anchor="start" fill="#000" stroke="#000" stroke-width="0.22" style='font-family:"Liberation Serif", serif' textLength="8.73" lengthAdjust="spacingAndGlyphs" >+</text>
<text x="484.70" y="309.70" font-size="12.40" text-anchor="start" fill="#000" stroke="#000" stroke-width="0.22" style='font-family:"Liberation Serif", serif' textLength="31.11" lengthAdjust="spacingAndGlyphs" >0.130</text>
<text x="389.46" y="322.60" font-size="12.20" text-anchor="start" fill="#000" stroke="#000" stroke-width="0.22" style='font-family:"Liberation Serif", serif' textLength="5.09" lengthAdjust="spacingAndGlyphs" >(</text>
<text x="395.11" y="322.60" font-size="12.20" text-anchor="start" fill="#000" stroke="#000" stroke-width="0.22" style='font-family:"Liberation Serif", serif' textLength="6.72" lengthAdjust="spacingAndGlyphs" font-style="italic" >R</text>
<text x="401.28" y="318.20" font-size="7.40" text-anchor="start" fill="#000" stroke="#000" stroke-width="0.22" style='font-family:"Liberation Serif", serif' textLength="5.25" lengthAdjust="spacingAndGlyphs" >2</text>
<text x="410.77" y="322.60" font-size="12.20" text-anchor="start" fill="#000" stroke="#000" stroke-width="0.22" style='font-family:"Liberation Serif", serif' textLength="9.34" lengthAdjust="spacingAndGlyphs" >=</text>
<text x="423.21" y="322.60" font-size="12.20" text-anchor="start" fill="#000" stroke="#000" stroke-width="0.22" style='font-family:"Liberation Serif", serif' textLength="23.47" lengthAdjust="spacingAndGlyphs" >0.98</text>
<text x="445.66" y="322.60" font-size="12.20" text-anchor="start" fill="#000" stroke="#000" stroke-width="0.22" style='font-family:"Liberation Serif", serif' textLength="4.36" lengthAdjust="spacingAndGlyphs" >)</text>
</svg>
</body></html>
